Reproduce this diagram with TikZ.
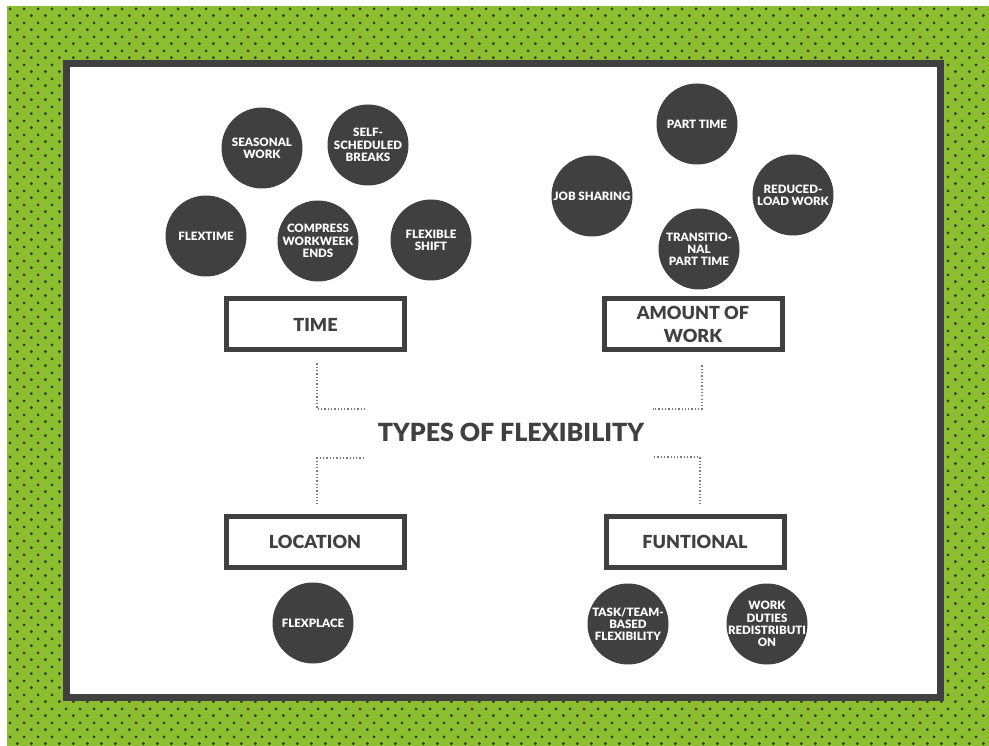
\documentclass[tikz,border=0pt]{standalone}
\usepackage{fontspec}
\setmainfont{Lato}[BoldFont={Lato Black}]
\usetikzlibrary{calc,patterns.meta}
\definecolor{grn}{HTML}{8CBF2F}
\definecolor{dotc}{HTML}{363D30}
\definecolor{dg}{HTML}{404040}
\definecolor{dotl}{HTML}{7A7A7A}
\tikzdeclarepattern{
  name=greendots,
  type=uncolored,
  bounding box={(0pt,0pt) and (14.2pt,14.2pt)},
  tile size={(14.2pt,14.2pt)},
  code={
    \pgfpathcircle{\pgfpoint{3.55pt}{3.55pt}}{1.65pt}
    \pgfpathcircle{\pgfpoint{10.65pt}{10.65pt}}{1.65pt}
    \pgfusepath{fill}
  }
}
\begin{document}
\begin{tikzpicture}[x=1pt,y=-1pt,
  circ/.style={circle,fill=dg,minimum size=81pt,inner sep=-20pt,text=white,
    font=\fontsize{11.5}{12.2}\selectfont\bfseries,align=center},
  catbox/.style={draw=dg,line width=5pt,fill=white,minimum width=178pt,minimum height=51pt,
    inner sep=0pt,font=\fontsize{18}{23}\selectfont\bfseries,text=dg,align=center},
  dotline/.style={draw=dotl,line width=1.3pt,dash pattern=on 1.3pt off 2pt}]
\useasboundingbox (0,0) rectangle (989,746);
% background
\fill[white] (0,0) rectangle (989,746);
\fill[grn] (7,6) rectangle (989,746);
\fill[pattern=greendots,pattern color=dotc] (7,6) rectangle (989,746);
% frame
\draw[dg,line width=7pt,fill=white] (66.5,64) rectangle (940.5,697);

% title
\node[font=\fontsize{25}{30}\selectfont\bfseries,text=dg] (title) at (511,432) {TYPES OF FLEXIBILITY};

% category boxes
\node[catbox] (time) at (315.5,324.5) {TIME};
\node[catbox] (amount) at (693,324.5) {AMOUNT OF\\WORK};
\node[catbox] (location) at (315,542) {LOCATION};
\node[catbox] (funtional) at (695,542) {FUNTIONAL};

% time circles
\node[circ] (seasonal) at (262,148) {SEASONAL\\WORK};
\node[circ] (selfsched) at (368,145) {SELF-\\SCHEDULED\\BREAKS};
\node[circ] (flextime) at (206,236) {FLEXTIME};
\node[circ] (compress) at (318,241) {COMPRESS\\WORKWEEK\\ENDS};
\node[circ] (flexshift) at (431,240) {FLEXIBLE\\SHIFT};

% amount circles
\node[circ] (parttime) at (697,124) {PART TIME};
\node[circ] (jobshare) at (592,196) {JOB SHARING};
\node[circ] (reduced) at (793,195) {REDUCED-\\LOAD WORK};
\node[circ] (transit) at (699,249) {TRANSITIO-\\NAL\\PART TIME};

% location circles
\node[circ] (flexplace) at (313,623) {FLEXPLACE};

% functional circles
\node[circ] (taskteam) at (628,624) {TASK/TEAM-\\BASED\\FLEXIBILITY};
\node[circ] (workduties) at (767,624) {WORK\\DUTIES\\REDISTRIBUTI\\ON};

% dotted connectors
\coordinate (tlend) at (364,409);
\coordinate (trend) at (653,409);
\coordinate (blend) at (364,458);
\coordinate (brend) at (654,457);
\draw[dotline] ($(time.south)+(1.5,11)$) |- (tlend);
\draw[dotline] ($(amount.south)+(9,13)$) |- (trend);
\draw[dotline] (blend) -| ($(location.north)+(2,-10)$);
\draw[dotline] (brend) -| ($(funtional.north)+(5,-10)$);
\end{tikzpicture}
\end{document}
